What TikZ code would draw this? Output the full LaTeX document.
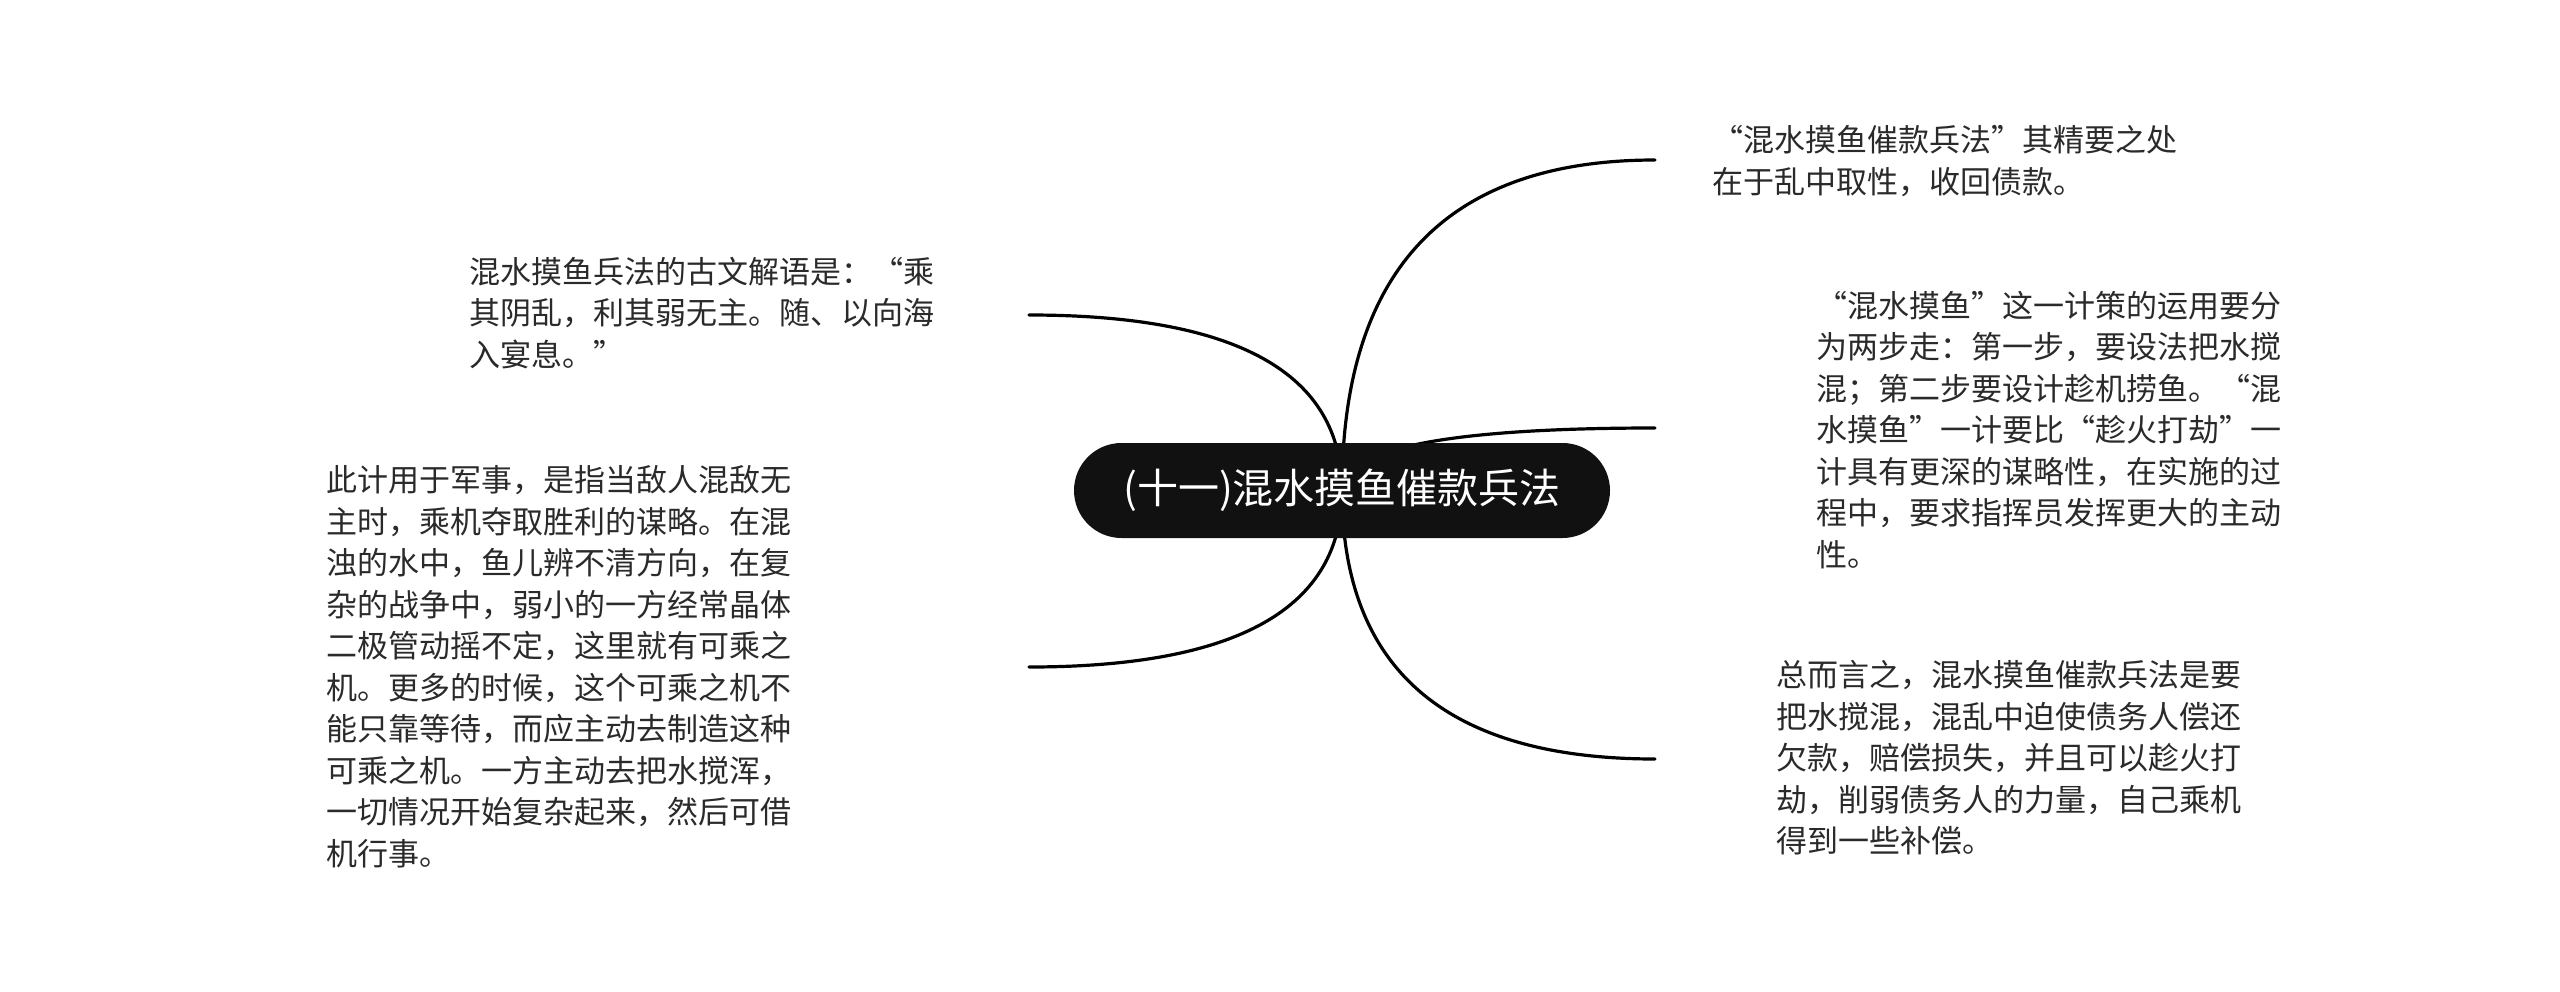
\documentclass[tikz,border=0pt]{standalone}
\usepackage{fontspec}
\setmainfont{Noto Sans CJK SC}
\usetikzlibrary{calc}
\pgfdeclarelayer{bg}
\pgfsetlayers{bg,main}
\definecolor{rootfill}{HTML}{111111}
\definecolor{txt}{HTML}{2A2A2A}
\tikzset{
  rootnode/.style={fill=rootfill, text=white, rounded corners=47.5pt, minimum width=536pt,
    minimum height=95pt, inner sep=0pt, font=\fontsize{41}{41}\selectfont},
  leaf/.style={anchor=west, inner sep=0pt, align=left, text=txt,
    font=\fontsize{31}{41.5}\selectfont},
  conn/.style={draw=black, line width=3.2pt, line cap=round},
  mm/.style={to path={.. controls ($(\tikztostart)!2/3!(\tikztostart|-\tikztotarget)$)
    and ($(\tikztotarget)!2/3!(\tikztostart|-\tikztotarget)$) .. (\tikztotarget)}}
}
\begin{document}
\begin{tikzpicture}[x=1pt,y=-1pt]
\begin{pgfonlayer}{bg}
\fill[white] (0,0) rectangle (2560,991);
\end{pgfonlayer}
\useasboundingbox (0,0) rectangle (2560,991);
\node[rootnode] (root) at (1342,490.5) {(十一)混水摸鱼催款兵法};

\node[leaf] (t1) at (469,313) {混水摸鱼兵法的古文解语是：“乘\\其阴乱，利其弱无主。随、以向海\\入宴息。”};
\node[leaf] (t2) at (326,667) {此计用于军事，是指当敌人混敌无\\主时，乘机夺取胜利的谋略。在混\\浊的水中，鱼儿辨不清方向，在复\\杂的战争中，弱小的一方经常晶体\\二极管动摇不定，这里就有可乘之\\机。更多的时候，这个可乘之机不\\能只靠等待，而应主动去制造这种\\可乘之机。一方主动去把水搅浑，\\一切情况开始复杂起来，然后可借\\机行事。};
\node[leaf] (r1) at (1712,161) {“混水摸鱼催款兵法”其精要之处\\在于乱中取性，收回债款。};
\node[leaf] (r2) at (1816,430) {“混水摸鱼”这一计策的运用要分\\为两步走：第一步，要设法把水搅\\混；第二步要设计趁机捞鱼。“混\\水摸鱼”一计要比“趁火打劫”一\\计具有更深的谋略性，在实施的过\\程中，要求指挥员发挥更大的主动\\性。};
\node[leaf] (r3) at (1776,758) {总而言之，混水摸鱼催款兵法是要\\把水搅混，混乱中迫使债务人偿还\\欠款，赔偿损失，并且可以趁火打\\劫，削弱债务人的力量，自己乘机\\得到一些补偿。};

\coordinate (e1) at (1029,315);
\coordinate (e2) at (1029,667);
\coordinate (e3) at (1655,160);
\coordinate (e4) at (1655,428);
\coordinate (e5) at (1655,759);

\begin{pgfonlayer}{bg}
\draw[conn] (root.center) to[mm] (e1);
\draw[conn] (root.center) to[mm] (e2);
\draw[conn] (root.center) to[mm] (e3);
\draw[conn] (root.center) to[mm] (e4);
\draw[conn] (root.center) to[mm] (e5);
\end{pgfonlayer}
\end{tikzpicture}
\end{document}
